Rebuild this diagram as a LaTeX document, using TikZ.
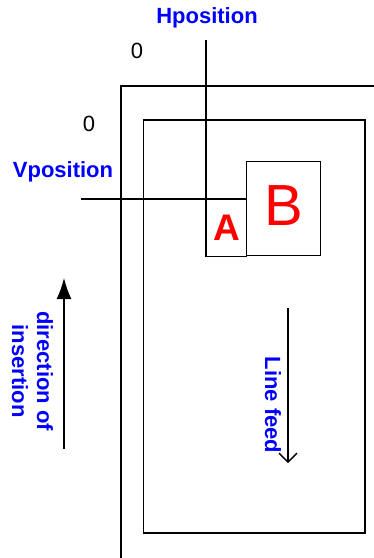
\documentclass[tikz,border=0pt]{standalone}
\usepackage{fontspec}
\setmainfont{Liberation Sans}
\usetikzlibrary{positioning,arrows.meta}

\begin{document}
\begin{tikzpicture}[x=1pt, y=-1pt,
    frame/.style={line width=1.2pt},
    guide/.style={line width=1.2pt},
    box/.style={draw, line width=1.2pt, inner sep=0pt},
    blue_label/.style={blue, font=\fontsize{22}{25}\selectfont\bfseries, align=center},
    zero_label/.style={font=\fontsize{22}{24}\selectfont},
    feed_arrow/.style={line width=1.3pt, -{Straight Barb[length=9pt, width=18pt, line width=1.3pt]}},
    insert_arrow/.style={line width=1.3pt, -{Latex[length=21pt, width=15pt]}}
]
    \useasboundingbox (0,0) rectangle (374,558);
    % Rahmen
    \draw[frame] (121,558) -- (121,86) -- (380,86);
    \draw[frame] (143.5,120) rectangle (365,533);
    % Hilfslinien fuer die Position
    \coordinate (h_top) at (206,40);
    \coordinate (v_left) at (81,199);
    \node[box, minimum width=40pt, minimum height=57pt, anchor=north west] (a_box) at (206,199) {};
    \node[box, minimum width=74pt, minimum height=94pt, anchor=south west] (b_box) at (246,256) {};
    \draw[guide] (h_top) -- (a_box.south west);
    \draw[guide] (v_left) -- (a_box.north east);
    \draw[line width=2pt] (a_box.north west) -- (a_box.north east);
    % Beschriftungen
    \node[red, font=\fontsize{37}{40}\selectfont\bfseries] (a_label) at (226.5,228) {A};
    \node[red, font=\fontsize{58}{60}\selectfont] (b_label) at (283.5,206) {B};
    \node[blue_label] (hpos) at (207,18) {Hposition};
    \node[blue_label] (vpos) at (63,172) {Vposition};
    \node[zero_label] (zero_h) at (137,51) {0};
    \node[zero_label] (zero_v) at (89,124) {0};
    % Pfeile
    \coordinate (ins_start) at (64,449);
    \coordinate (ins_end) at (64,278);
    \draw[insert_arrow] (ins_start) -- (ins_end);
    \node[blue_label, rotate=-90] (ins_label) at (32.5,371) {direction of\\insertion};
    \coordinate (feed_start) at (288,308);
    \coordinate (feed_end) at (288,463);
    \draw[feed_arrow] (feed_start) -- (feed_end);
    \node[blue_label, rotate=-90] (feed_label) at (273,405) {Line feed};
\end{tikzpicture}
\end{document}
